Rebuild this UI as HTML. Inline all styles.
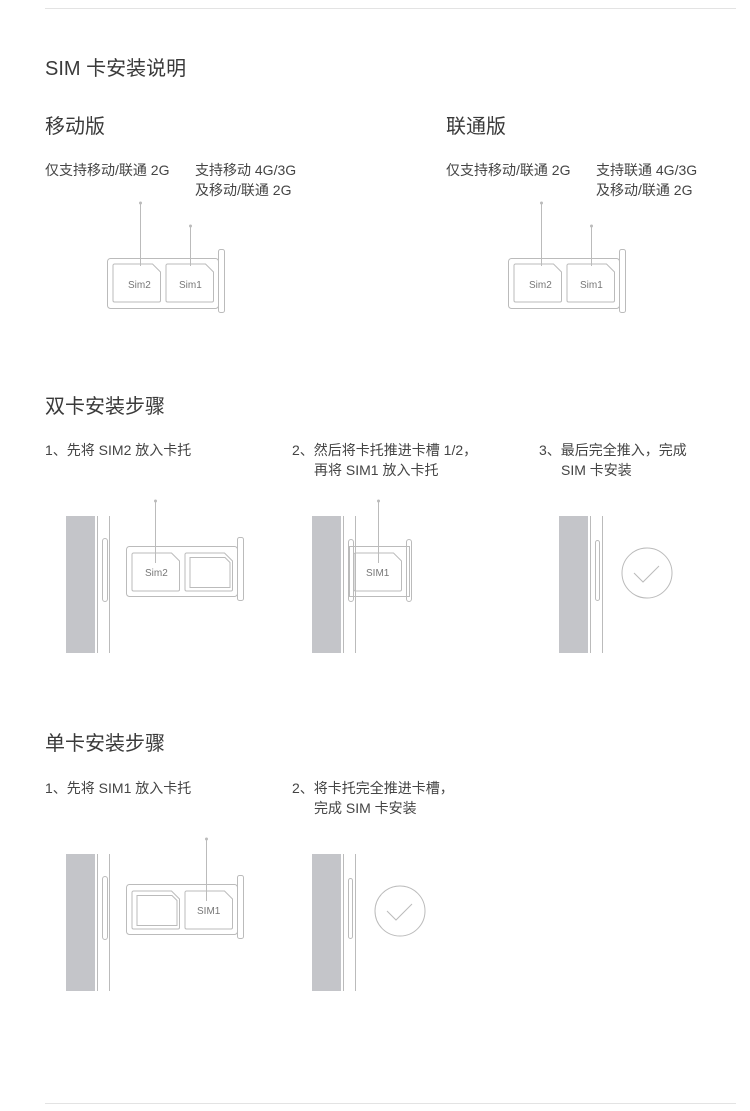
<!DOCTYPE html>
<html><head><meta charset="utf-8"><style>
html,body{margin:0;padding:0;background:#fff;}
svg{display:block;}
text{font-family:"Liberation Sans","Noto Sans CJK SC",sans-serif;fill:#444;}
.h1{font-size:20px;fill:#3a3a3a}
.t{font-size:14px}
.c{font-size:10px;fill:#777}
.l{stroke:#bbb;fill:none;stroke-width:1}
.d{fill:#bbb}
</style></head><body>
<svg width="750" height="1111" viewBox="0 0 750 1111" xmlns="http://www.w3.org/2000/svg">
<defs>
<g id="card"><path d="M1.5,0 h38 l8,8 v28.5 a1.5,1.5 0 0 1 -1.5,1.5 h-44.5 a1.5,1.5 0 0 1 -1.5,-1.5 v-35 a1.5,1.5 0 0 1 1.5,-1.5z" class="l"/></g>
<g id="tray">
<rect x="0.5" y="0.5" width="111" height="50" rx="3" class="l"/>
<rect x="111.5" y="-8.5" width="6" height="63" rx="2" class="l"/>
</g>
<g id="phone">
<rect x="0" y="0" width="29" height="137" fill="#c4c5c9"/>
<line x1="31.5" y1="0" x2="31.5" y2="137" class="l"/>
<line x1="43.5" y1="0" x2="43.5" y2="137" class="l"/>
</g>
</defs>
<line x1="45" y1="8.5" x2="736" y2="8.5" stroke="#e3e3e3"/>
<line x1="45" y1="1103.5" x2="736" y2="1103.5" stroke="#e3e3e3"/>

<text x="45" y="75" class="h1">SIM 卡安装说明</text>
<text x="45" y="133" class="h1">移动版</text>
<text x="446" y="133" class="h1">联通版</text>

<g>
<text x="45" y="175" class="t">仅支持移动/联通 2G</text>
<text x="195" y="175" class="t">支持移动 4G/3G</text>
<text x="195" y="195" class="t">及移动/联通 2G</text>
<use href="#tray" x="107" y="258"/>
<use href="#card" x="113" y="264"/>
<use href="#card" x="166" y="264"/>
<text x="128" y="288" class="c">Sim2</text>
<text x="179" y="288" class="c">Sim1</text>
<line x1="140.5" y1="203" x2="140.5" y2="266" class="l"/><circle cx="140.5" cy="203" r="1.5" class="d"/>
<line x1="190.5" y1="226" x2="190.5" y2="266" class="l"/><circle cx="190.5" cy="226" r="1.5" class="d"/>
</g>
<g transform="translate(401,0)">
<text x="45" y="175" class="t">仅支持移动/联通 2G</text>
<text x="195" y="175" class="t">支持联通 4G/3G</text>
<text x="195" y="195" class="t">及移动/联通 2G</text>
<use href="#tray" x="107" y="258"/>
<use href="#card" x="113" y="264"/>
<use href="#card" x="166" y="264"/>
<text x="128" y="288" class="c">Sim2</text>
<text x="179" y="288" class="c">Sim1</text>
<line x1="140.5" y1="203" x2="140.5" y2="266" class="l"/><circle cx="140.5" cy="203" r="1.5" class="d"/>
<line x1="190.5" y1="226" x2="190.5" y2="266" class="l"/><circle cx="190.5" cy="226" r="1.5" class="d"/>
</g>

<text x="45" y="413" class="h1">双卡安装步骤</text>
<text x="45" y="455" class="t">1、先将 SIM2 放入卡托</text>
<text x="292" y="455" class="t">2、然后将卡托推进卡槽 1/2，</text>
<text x="314" y="475" class="t">再将 SIM1 放入卡托</text>
<text x="539" y="455" class="t">3、最后完全推入，完成</text>
<text x="561" y="475" class="t">SIM 卡安装</text>

<use href="#phone" x="66" y="516"/>
<rect x="102.5" y="538.5" width="5" height="63" rx="2.5" class="l"/>
<use href="#tray" x="126" y="546"/>
<use href="#card" x="132" y="553"/>
<use href="#card" x="185" y="553"/>
<path d="M190,557.5 h35 l5,5 v25 h-40 z" class="l"/>
<text x="145" y="576" class="c">Sim2</text>
<line x1="155.5" y1="501" x2="155.5" y2="563" class="l"/><circle cx="155.5" cy="501" r="1.5" class="d"/>

<use href="#phone" x="312" y="516"/>
<rect x="349.5" y="546.5" width="60" height="50" class="l" fill="#fff"/>
<rect x="348.5" y="539.5" width="5" height="62" rx="2.5" class="l"/>
<rect x="406.5" y="539.5" width="5" height="62" rx="2.5" class="l"/>
<use href="#card" x="354" y="553"/>
<text x="366" y="576" class="c">SIM1</text>
<line x1="378.5" y1="501" x2="378.5" y2="563" class="l"/><circle cx="378.5" cy="501" r="1.5" class="d"/>

<use href="#phone" x="559" y="516"/>
<rect x="595.5" y="540.5" width="4" height="60" rx="2" class="l"/>
<circle cx="647" cy="573" r="25" class="l"/>
<path d="M634,573 l9,9 l16,-16" class="l"/>

<text x="45" y="750" class="h1">单卡安装步骤</text>
<text x="45" y="793" class="t">1、先将 SIM1 放入卡托</text>
<text x="292" y="793" class="t">2、将卡托完全推进卡槽，</text>
<text x="314" y="813" class="t">完成 SIM 卡安装</text>

<use href="#phone" x="66" y="854"/>
<rect x="102.5" y="876.5" width="5" height="63" rx="2.5" class="l"/>
<use href="#tray" x="126" y="884"/>
<use href="#card" x="185" y="891"/>
<use href="#card" x="132" y="891"/>
<path d="M137,895.5 h35 l5,5 v25 h-40 z" class="l"/>
<text x="197" y="914" class="c">SIM1</text>
<line x1="206.5" y1="839" x2="206.5" y2="901" class="l"/><circle cx="206.5" cy="839" r="1.5" class="d"/>

<use href="#phone" x="312" y="854"/>
<rect x="348.5" y="878.5" width="4" height="60" rx="2" class="l"/>
<circle cx="400" cy="911" r="25" class="l"/>
<path d="M387,911 l9,9 l16,-16" class="l"/>
</svg>
</body></html>
